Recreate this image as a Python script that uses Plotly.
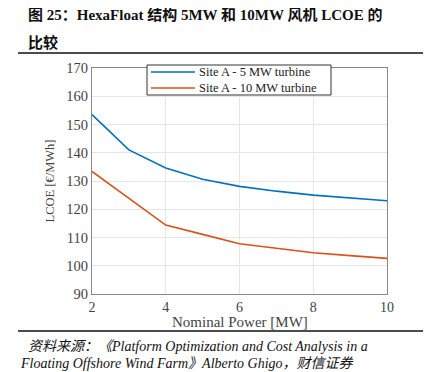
import plotly.graph_objects as go

power_mw = [2, 3, 4, 5, 6, 7, 8, 9, 10]
lcoe_5mw = [153.5, 141.0, 134.6, 130.6, 128.1, 126.4, 125.0, 124.0, 123.0]
lcoe_10mw = [133.4, 123.9, 114.4, 111.1, 107.8, 106.2, 104.6, 103.6, 102.6]
series_names = ["Site A - 5 MW turbine", "Site A - 10 MW turbine"]
series_colors = ["#0072BD", "#D95319"]
x_ticks = [2, 4, 6, 8, 10]
y_ticks = [90, 100, 110, 120, 130, 140, 150, 160, 170]

OFF = 8  # page body margin
W, H = 432 - OFF, 372 - OFF
L, R, T, B = 92 - OFF, 45, 68 - OFF, 78
pw, ph = W - L - R, H - T - B

def px(x):
    return (x - OFF - L) / pw

def py(y):
    return (H - B - (y - OFF)) / ph

fig = go.Figure()
for yv, nm, col in zip([lcoe_5mw, lcoe_10mw], series_names, series_colors):
    fig.add_trace(go.Scatter(x=power_mw, y=yv, mode="lines", name=nm,
                             line=dict(color=col, width=1.6), showlegend=False))

serif = "Liberation Serif"
fig.update_layout(
    width=W, height=H,
    margin=dict(l=L, r=R, t=T, b=B),
    paper_bgcolor="white", plot_bgcolor="white",
    font=dict(family=serif, color="#444"),
    showlegend=False,
    xaxis=dict(range=[2, 10], tickvals=x_ticks, showgrid=True, gridcolor="#e6e6e6",
               showline=True, linecolor="#888", linewidth=1.2, mirror=True,
               ticks="", zeroline=False,
               tickfont=dict(family=serif, size=14, color="#444")),
    yaxis=dict(range=[90, 170], tickvals=y_ticks, showgrid=True, gridcolor="#e6e6e6",
               showline=True, linecolor="#888", linewidth=1.2, mirror=True,
               ticks="", zeroline=False,
               tickfont=dict(family=serif, size=14.5, color="#444"),
               title=dict(text="LCOE [€/MWh]", font=dict(family=serif, size=12.5, color="#444"), standoff=8)),
)

# x-axis title placed as annotation to sit tight under the tick labels
fig.add_annotation(text="Nominal Power [MW]", xref="paper", yref="paper",
                   x=0.5, y=py(322), xanchor="center", yanchor="middle",
                   showarrow=False, borderpad=0,
                   font=dict(family=serif, size=15, color="#444"))

# legend box (drawn manually to match compact MATLAB legend)
fig.add_shape(type="rect", xref="paper", yref="paper",
              x0=px(147), x1=px(331), y0=py(95), y1=py(65),
              line=dict(color="#333", width=1), fillcolor="white", layer="above")
for i, col in enumerate(series_colors):
    yy = 72 + 16 * i
    fig.add_shape(type="line", xref="paper", yref="paper",
                  x0=px(151), x1=px(195), y0=py(yy), y1=py(yy),
                  line=dict(color=col, width=1.6), layer="above")
fig.add_annotation(text="<br>".join(series_names), xref="paper", yref="paper",
                   x=px(198), y=py(80), xanchor="left", yanchor="middle", align="left",
                   showarrow=False, borderpad=0,
                   font=dict(family=serif, size=12.5, color="#222"))

title_font = dict(family="Liberation Serif, Noto Sans CJK SC", size=15, color="#111")
fig.add_annotation(text="<b>图 25：HexaFloat 结构 5MW 和 10MW 风机 LCOE 的</b>",
                   xref="paper", yref="paper", x=px(26), y=py(15), xanchor="left", yanchor="middle",
                   showarrow=False, font=title_font)
fig.add_annotation(text="<b>比较</b>",
                   xref="paper", yref="paper", x=px(26), y=py(42), xanchor="left", yanchor="middle",
                   showarrow=False, font=title_font)

src_font = dict(family="Liberation Serif, Noto Sans CJK SC", size=14, color="#111")
fig.add_annotation(text="<i>资料来源：《Platform Optimization and Cost Analysis in a</i>",
                   xref="paper", yref="paper", x=px(26), y=py(346), xanchor="left", yanchor="middle",
                   showarrow=False, font=src_font)
fig.add_annotation(text="<i>Floating Offshore Wind Farm》Alberto Ghigo，财信证券</i>",
                   xref="paper", yref="paper", x=px(18), y=py(363), xanchor="left", yanchor="middle",
                   showarrow=False, font=src_font)

for yy in (53, 331):
    fig.add_shape(type="line", xref="paper", yref="paper",
                  x0=px(18), x1=px(423), y0=py(yy), y1=py(yy),
                  line=dict(color="#111", width=1.5))

fig.write_html("out.html")
